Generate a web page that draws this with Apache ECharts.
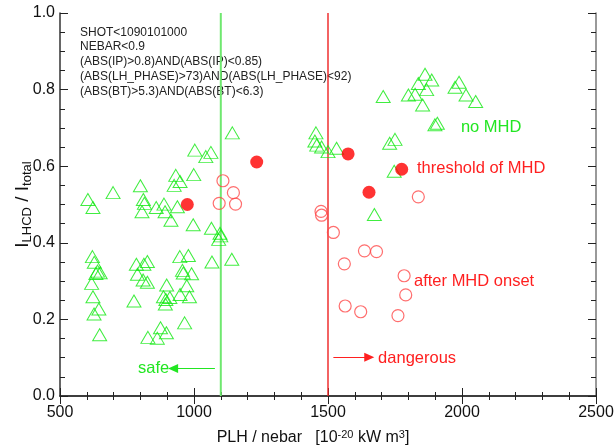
<!DOCTYPE html>
<html>
<head>
<meta charset="utf-8">
<script src="https://cdn.jsdelivr.net/npm/echarts@6/dist/echarts.min.js"></script>
<style>
  html, body { margin: 0; padding: 0; background: #fff; }
  #chart { width: 615px; height: 447px; }
</style>
</head>
<body>
<div id="chart"></div>
<script>
// 無MHD的點 (綠色三角形) [PLH/nebar, I_LHCD/I_total]
const noMhd = [
  [1143, 0.687], [1003, 0.642], [1044, 0.625], [1063, 0.636], [932, 0.576], [948, 0.56],
  [926, 0.55], [999, 0.578], [800, 0.549], [698, 0.531], [604, 0.513], [623, 0.492],
  [811, 0.513], [815, 0.503], [806, 0.481], [859, 0.492], [888, 0.501], [892, 0.481],
  [938, 0.494], [914, 0.459], [997, 0.447], [1065, 0.438], [1097, 0.425], [1092, 0.409],
  [1100, 0.418],
  [621, 0.364], [628, 0.349], [640, 0.326], [650, 0.322], [634, 0.32], [618, 0.294],
  [623, 0.259], [645, 0.227], [627, 0.214], [648, 0.16],
  [785, 0.344], [813, 0.344], [826, 0.351], [789, 0.318], [810, 0.303], [826, 0.297], [776, 0.248],
  [898, 0.29], [886, 0.259], [910, 0.257], [895, 0.252], [893, 0.24],
  [947, 0.364], [979, 0.367], [957, 0.328], [960, 0.321], [991, 0.319], [973, 0.288],
  [948, 0.265], [983, 0.259], [965, 0.191], [875, 0.178], [897, 0.165], [828, 0.153], [863, 0.151],
  [1067, 0.35], [1141, 0.357],
  [1455, 0.687], [1451, 0.666], [1458, 0.655], [1476, 0.65], [1500, 0.638], [1532, 0.647],
  [1730, 0.66], [1750, 0.67], [1747, 0.587], [1673, 0.474],
  [1862, 0.84], [1887, 0.825], [1837, 0.816], [1868, 0.8], [1800, 0.786], [1825, 0.788],
  [1853, 0.76], [1989, 0.819], [1974, 0.806], [2015, 0.786], [2051, 0.769], [1706, 0.782],
  [1899, 0.708], [1908, 0.712]
]
// MHD閾值 (紅色實心圓)
const threshold = [[975, 0.5], [1234, 0.611], [1575, 0.632], [1653, 0.532], [1775, 0.592]]
// MHD發生後 (紅色空心圓)
const afterOnset = [
  [1108, 0.562], [1147, 0.531], [1155, 0.501], [1094, 0.503], [1474, 0.482], [1476, 0.472],
  [1520, 0.427], [1636, 0.379], [1681, 0.377], [1561, 0.345], [1837, 0.52], [1784, 0.314],
  [1790, 0.264], [1564, 0.235], [1622, 0.22], [1761, 0.21]
]
// 分界線
const safeLimit = 1100
const dangerLimit = 1500
// 篩選條件文字
const conditionLines = [
  'SHOT<1090101000',
  'NEBAR<0.9',
  '(ABS(IP)>0.8)AND(ABS(IP)<0.85)',
  '(ABS(LH_PHASE)>73)AND(ABS(LH_PHASE)<92)',
  '(ABS(BT)>5.3)AND(ABS(BT)<6.3)'
]
// 標註 [文字, x, y, 顏色]
const notes = [
  ['no MHD', 1996, 0.702, '#22e622'],
  ['threshold of MHD', 1832, 0.593, '#ff2020'],
  ['after MHD onset', 1821, 0.298, '#ff2020'],
  ['dangerous', 1687, 0.097, '#ff2020'],
  ['safe', 791, 0.073, '#22e622']
]
// 箭頭 [起點, 終點, 顏色]
const arrows = [
  [[1078, 0.072], [922, 0.072], '#22e622'],
  [[1520, 0.101], [1654, 0.101], '#ff2020']
]

const FONT = 'Liberation Sans, Arial, sans-serif'
const myChart = echarts.init(document.getElementById('chart'))
const axisLine = { show: true, lineStyle: { color: '#333', width: 1.5 } }

// 垂直分界線
const vLine = (x, color, width) => ({
  type: 'line',
  data: [[x, 0], [x, 1]],
  symbol: 'none',
  silent: true,
  lineStyle: { color, width },
  z: 1
})

const option = {
  animation: false,
  textStyle: { fontFamily: FONT },
  grid: { left: 60, right: 19, top: 13, bottom: 51, outerBoundsMode: 'none', containLabel: false },
  xAxis: [
    {
      type: 'value', min: 500, max: 2500, interval: 500,
      axisLine,
      axisTick: { inside: true, length: 8, lineStyle: { color: '#222' } },
      minorTick: { show: true, splitNumber: 5, length: 4, lineStyle: { color: '#222' } },
      splitLine: { show: false },
      axisLabel: { fontSize: 16, color: '#111', margin: 9, fontFamily: FONT, formatter: (v) => String(v) },
      name: '{a|PLH / nebar   [10}{s|-20}{a| kW m}{s|3}{a|]}',
      nameLocation: 'middle',
      nameGap: 33,
      nameTextStyle: {
        padding: [0, 30, 0, 0],
        rich: {
          a: { fontSize: 16, lineHeight: 18, color: '#111', fontFamily: FONT },
          s: { fontSize: 11, lineHeight: 11, verticalAlign: 'top', color: '#111', fontFamily: FONT }
        }
      }
    },
    {
      type: 'value', position: 'top', min: 500, max: 2500, interval: 500,
      axisLine,
      axisTick: { inside: true, length: 8, lineStyle: { color: '#222' } },
      minorTick: { show: true, splitNumber: 5, length: 4, lineStyle: { color: '#222' } },
      splitLine: { show: false },
      axisLabel: { show: false }
    }
  ],
  yAxis: [
    {
      type: 'value', min: 0, max: 1, interval: 0.2,
      axisLine,
      axisTick: { inside: true, length: 8, lineStyle: { color: '#222' } },
      minorTick: { show: true, splitNumber: 4, length: 5, lineStyle: { color: '#222' } },
      splitLine: { show: false },
      axisLabel: {
        fontSize: 16, color: '#111', margin: 5, fontFamily: FONT,
        formatter: (v) => v.toFixed(1)
      },
      name: '{a|I}{b|LHCD}{a| / I}{b|total}',
      nameLocation: 'middle',
      nameGap: 26,
      nameMoveOverlap: false,
      nameTextStyle: {
        rich: {
          a: { fontSize: 19, lineHeight: 22, color: '#111', fontFamily: FONT },
          b: { fontSize: 13, lineHeight: 13, verticalAlign: 'bottom', color: '#111', fontFamily: FONT }
        }
      }
    },
    {
      type: 'value', position: 'right', min: 0, max: 1, interval: 0.2,
      axisLine: { show: true, lineStyle: { color: '#777', width: 1.5 } },
      axisTick: { inside: true, length: 8, lineStyle: { color: '#222' } },
      minorTick: { show: true, splitNumber: 4, length: 5, lineStyle: { color: '#222' } },
      splitLine: { show: false },
      axisLabel: { show: false }
    }
  ],
  series: [
    vLine(safeLimit, '#6fe86f', 2),
    vLine(dangerLimit, '#ee2222', 1.4),
    {
      name: 'arrows',
      type: 'scatter',
      data: [],
      markLine: {
        silent: true,
        symbol: ['none', 'triangle'],
        symbolSize: [9, 10],
        label: { show: false },
        data: arrows.map((a) => [
          { coord: a[0], lineStyle: { color: a[2], width: 1.2, type: 'solid' }, itemStyle: { color: a[2] } },
          { coord: a[1] }
        ])
      }
    },
    {
      name: 'no MHD',
      type: 'scatter',
      data: noMhd,
      symbol: 'triangle',
      symbolSize: [14, 12],
      itemStyle: { color: 'rgba(0,0,0,0)', borderColor: '#10e810', borderWidth: 1 }
    },
    {
      name: 'after MHD onset',
      type: 'scatter',
      data: afterOnset,
      symbol: 'circle',
      symbolSize: 12,
      itemStyle: { color: 'rgba(0,0,0,0)', borderColor: '#ff4a4a', borderWidth: 1.2 }
    },
    {
      name: 'threshold of MHD',
      type: 'scatter',
      data: threshold,
      symbol: 'circle',
      symbolSize: 13,
      itemStyle: { color: '#ff0000' }
    }
  ]
}

myChart.setOption(option)

// 標註文字與條件文字
const graphics = notes.map((n) => {
  const p = myChart.convertToPixel({ gridIndex: 0 }, [n[1], n[2]])
  return {
    type: 'text', x: p[0], y: p[1],
    style: { text: n[0], fill: n[3], font: '16.5px ' + FONT, textVerticalAlign: 'middle' }
  }
})
conditionLines.forEach((t, i) => {
  graphics.push({
    type: 'text', x: 80, y: 32.3 + i * 14.85,
    style: { text: t, fill: '#222', font: '12px ' + FONT, textVerticalAlign: 'middle' }
  })
})
myChart.setOption({ graphic: graphics })
</script>
</body>
</html>
